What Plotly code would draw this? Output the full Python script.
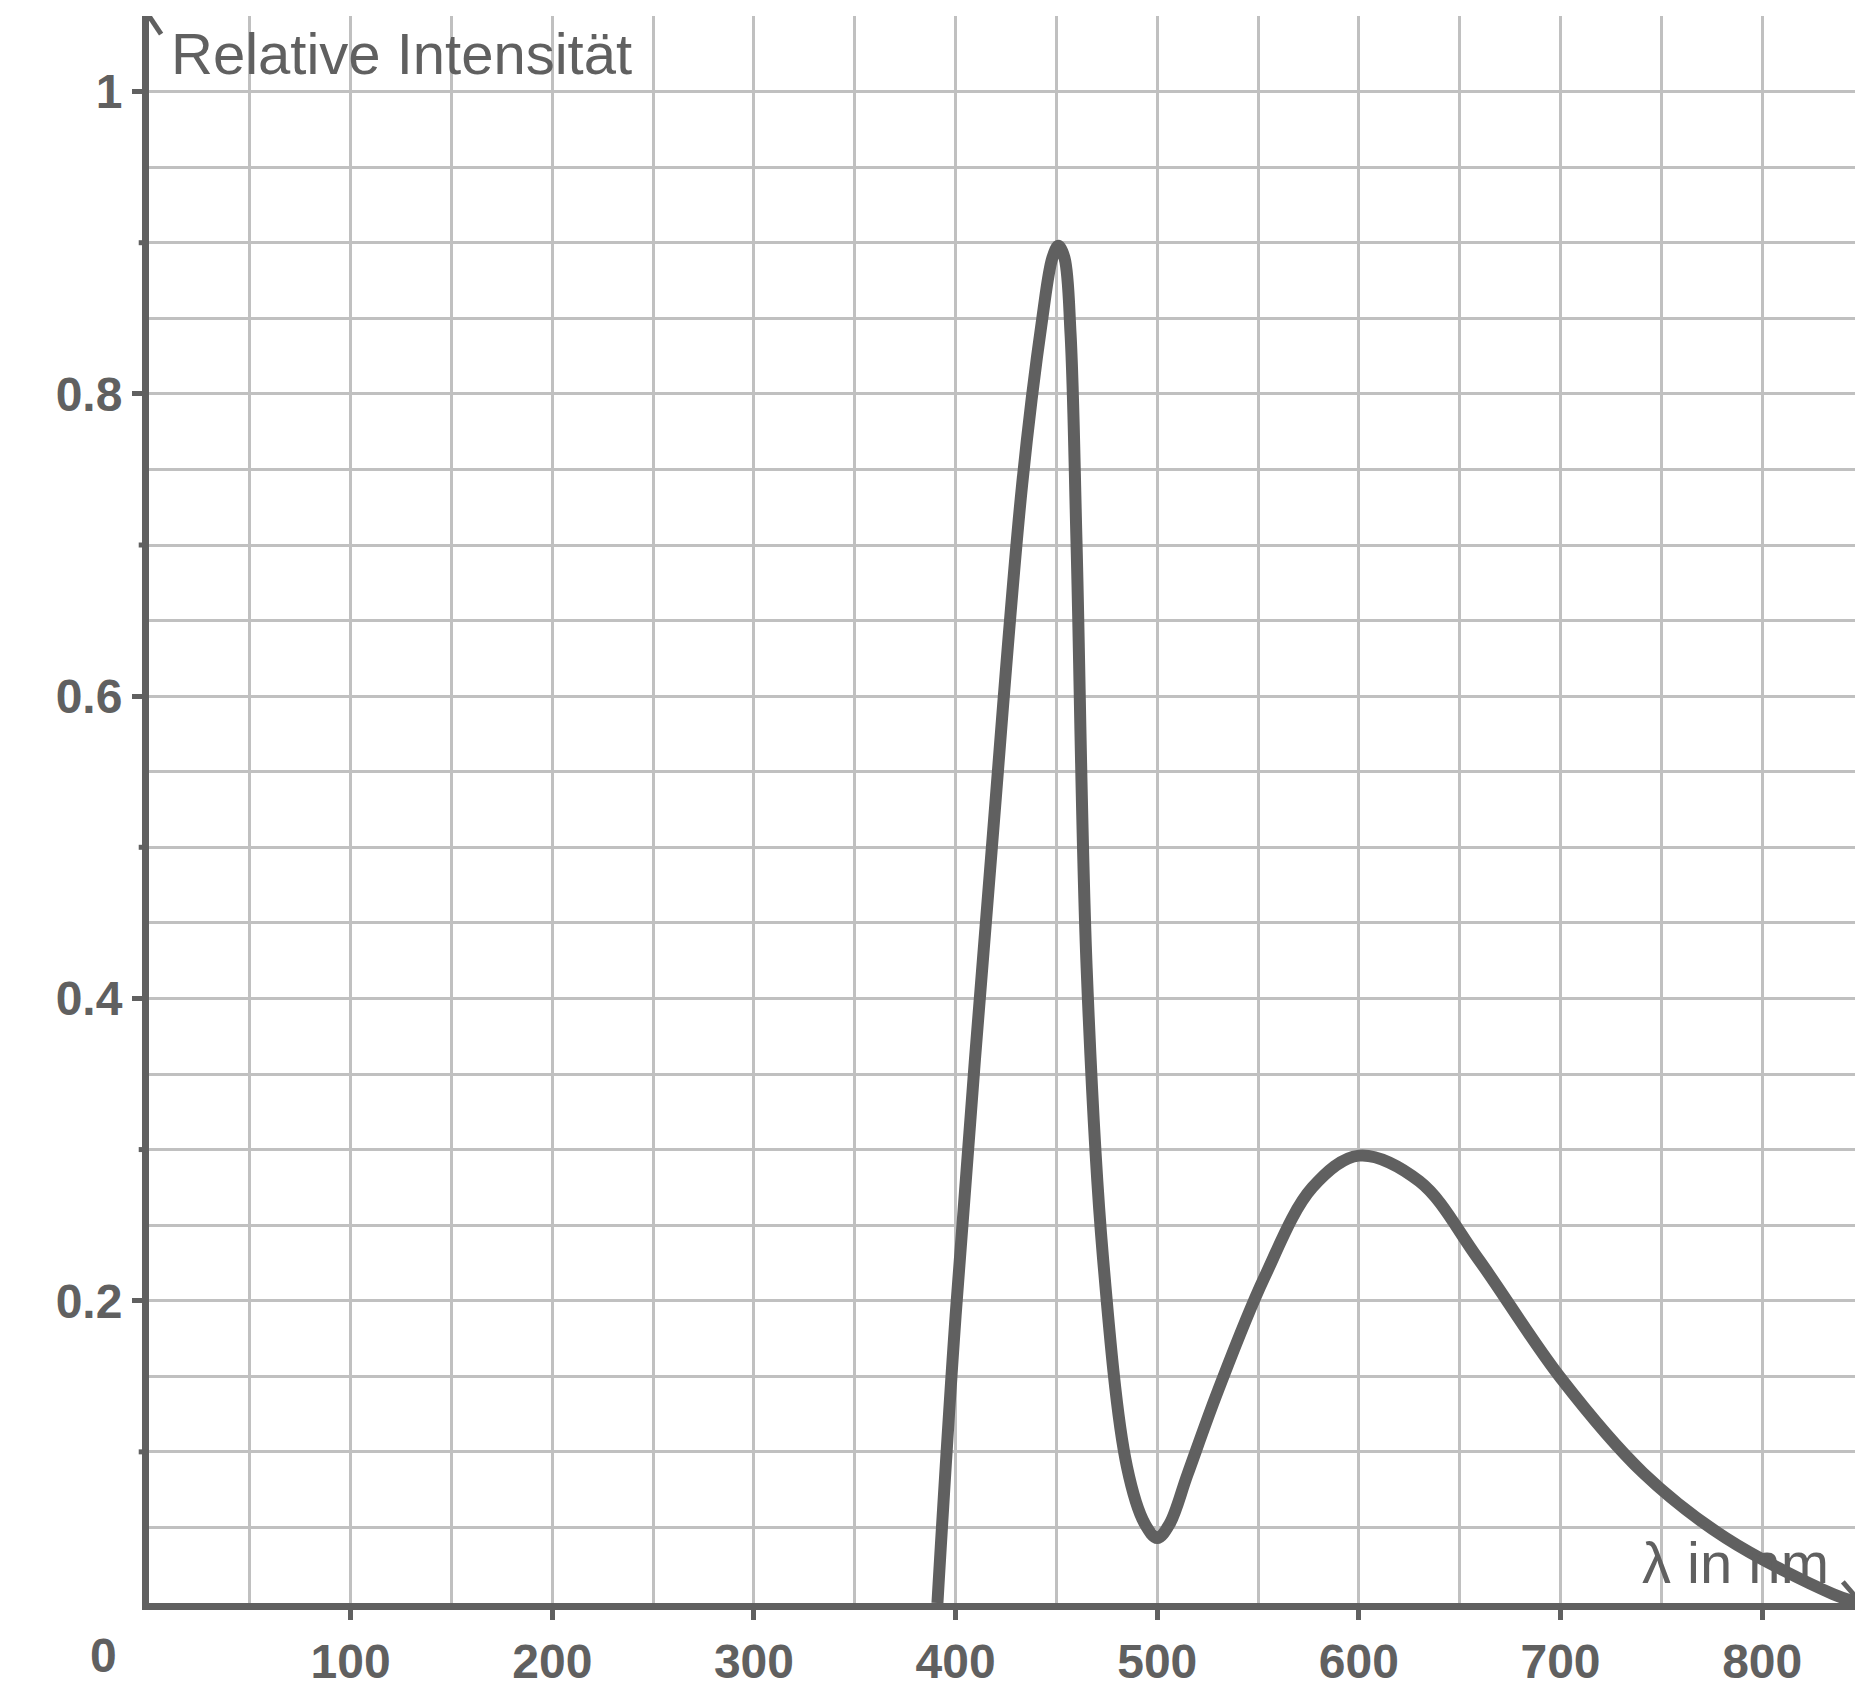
import plotly.graph_objects as go

wl = [391, 400, 418, 433, 443, 448, 451, 454, 457, 460, 465, 473, 485, 494, 500, 506, 515, 530, 553, 577, 600, 630, 659, 700, 741, 782, 835, 848]
inten = [0.0, 0.19, 0.50, 0.74, 0.85, 0.89, 0.898, 0.89, 0.84, 0.70, 0.42, 0.23, 0.09, 0.052, 0.043, 0.052, 0.085, 0.14, 0.215, 0.275, 0.296, 0.279, 0.228, 0.149, 0.086, 0.043, 0.006, 0.0]
x_ticks = [100, 200, 300, 400, 500, 600, 700, 800]
y_ticks = [0.2, 0.4, 0.6, 0.8, 1.0]
y_tick_text = ["0.2", "0.4", "0.6", "0.8", "1"]

C = "#606060"
fig = go.Figure()
fig.add_trace(go.Scatter(x=wl, y=inten, mode="lines",
                         line=dict(color=C, width=12, shape="spline", smoothing=1.0)))
font = dict(family="Liberation Sans", size=48, color=C)
fig.update_layout(
    width=1863, height=1688, margin=dict(l=141, r=8, t=8, b=84),
    plot_bgcolor="white", paper_bgcolor="white", showlegend=False,
    xaxis=dict(range=[0, 850], tickvals=x_ticks, ticktext=[f"<b>{v}</b>" for v in x_ticks],
               tickfont=font, ticks="outside", ticklen=10, tickwidth=5, tickcolor=C,
               showgrid=True, gridcolor="#c0c0c0", gridwidth=3,
               minor=dict(dtick=50, showgrid=True, gridcolor="#c0c0c0", gridwidth=3),
               showline=True, linecolor=C, linewidth=7, zeroline=False),
    yaxis=dict(range=[0, 1.05], tickvals=y_ticks, ticktext=[f"<b>{t}</b>" for t in y_tick_text],
               tickfont=font, ticks="outside", ticklen=10, tickwidth=5, tickcolor=C,
               showgrid=True, gridcolor="#c0c0c0", gridwidth=3,
               minor=dict(dtick=0.05, showgrid=True, gridcolor="#c0c0c0", gridwidth=3),
               showline=True, linecolor=C, linewidth=7, zeroline=False),
)
fig.add_annotation(x=0, y=0, xref="x", yref="y", text="<b>0</b>", showarrow=False,
                   font=font, xshift=-46, yshift=-52)
for v in [0.1, 0.3, 0.5, 0.7, 0.9]:
    fig.add_shape(type="line", xref="paper", yref="y", x0=-0.006, x1=0, y0=v, y1=v,
                  line=dict(color=C, width=5))
# arrow chevrons
for dx in (-6, 6):
    fig.add_shape(type="line", xref="x", yref="y", x0=0, y0=1.05, x1=dx, y1=1.038,
                  line=dict(color=C, width=5))
for dy in (-0.014, 0.014):
    fig.add_shape(type="line", xref="x", yref="y", x0=849, y0=0, x1=840, y1=dy,
                  line=dict(color=C, width=5))
fig.add_annotation(x=10, y=1.048, xref="x", yref="y", text="Relative Intensität", showarrow=False,
                   xanchor="left", yanchor="top", font=dict(family="Liberation Sans", size=58, color=C))
fig.add_annotation(x=834, y=0.004, xref="x", yref="y", text="λ in nm", showarrow=False,
                   xanchor="right", yanchor="bottom", font=dict(family="Liberation Sans", size=58, color=C))
fig.write_html("out.html")
